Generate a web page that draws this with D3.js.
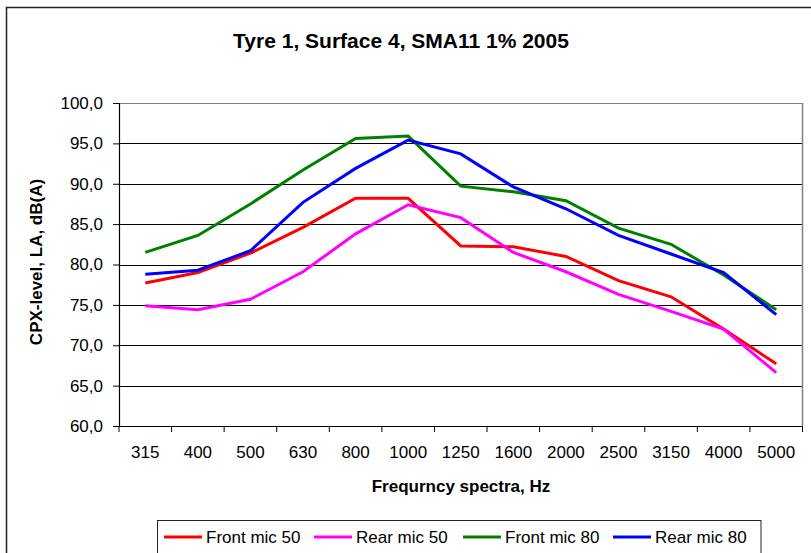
<!DOCTYPE html>
<html>
<head>
<meta charset="utf-8">
<script src="https://cdn.jsdelivr.net/npm/d3@7"></script>
<style>
  html, body { margin: 0; padding: 0; background: #fff; }
  svg { display: block; }
  text { font-family: Arial, "Liberation Sans", sans-serif; fill: #000; }
</style>
</head>
<body>
<svg id="chart" width="811" height="553"></svg>
<script>
const categories = ["315","400","500","630","800","1000","1250","1600","2000","2500","3150","4000","5000"];
const frontMic50 = [77.7, 79.0, 81.4, 84.6, 88.2, 88.2, 82.3, 82.2, 81.0, 78.0, 76.0, 72.0, 67.7];
const rearMic50  = [74.9, 74.4, 75.7, 79.1, 83.8, 87.4, 85.8, 81.5, 79.1, 76.3, 74.2, 72.0, 66.6];
const frontMic80 = [81.5, 83.6, 87.5, 91.7, 95.6, 95.9, 89.7, 89.0, 87.9, 84.5, 82.5, 78.7, 74.4];
const rearMic80  = [78.8, 79.3, 81.7, 87.7, 91.9, 95.4, 93.7, 89.6, 86.9, 83.6, 81.3, 79.0, 73.8];
const yTicks = [60, 65, 70, 75, 80, 85, 90, 95, 100];
const seriesNames = ["Front mic 50", "Rear mic 50", "Front mic 80", "Rear mic 80"];
const seriesColors = ["#FF0000", "#FF00FF", "#008000", "#0000FF"];
const seriesValues = [frontMic50, rearMic50, frontMic80, rearMic80];
const titleText = "Tyre 1, Surface 4, SMA11 1% 2005";
const xTitle = "Frequrncy spectra, Hz";
const yTitle = "CPX-level, LA, dB(A)";

const svg = d3.select("#chart");
const plot = {left: 119, right: 802.5, top: 103, bottom: 426};

// outer chart frame (extends past right/bottom edges)
svg.append("rect").attr("x", 6.5).attr("y", 7.5).attr("width", 900).attr("height", 700)
  .attr("fill", "none").attr("stroke", "#222").attr("stroke-width", 1.5);

const x = d3.scaleBand().domain(categories).range([plot.left, plot.right]).padding(0);
const y = d3.scaleLinear().domain([60, 100]).range([plot.bottom, plot.top]);

// gridlines
svg.append("g").selectAll("line").data(yTicks.filter(d => d > 60)).join("line")
  .attr("x1", plot.left).attr("x2", plot.right)
  .attr("y1", d => Math.round(y(d)) + 0.5).attr("y2", d => Math.round(y(d)) + 0.5)
  .attr("stroke", d => d === 100 ? "#808080" : "#000").attr("stroke-width", 1);

// plot area right border
svg.append("line").attr("x1", plot.right).attr("x2", plot.right)
  .attr("y1", plot.top).attr("y2", plot.bottom).attr("stroke", "#808080").attr("stroke-width", 1.5);

// Y axis
const yAxis = d3.axisLeft(y).tickValues(yTicks).tickSize(6).tickPadding(10)
  .tickFormat(d => d3.format(".1f")(d).replace(".", ","));
const gy = svg.append("g").attr("transform", `translate(${plot.left},0)`).call(yAxis);
gy.select(".domain").attr("stroke", "#000").attr("stroke-width", 1.2);
gy.selectAll(".tick line").attr("stroke", "#000");
gy.selectAll(".tick text").style("font-size", "17px").style("font-family", "Arial, 'Liberation Sans', sans-serif");

// X axis (ticks between categories)
const xAxis = d3.axisBottom(x).tickSize(0).tickPadding(20);
const gx = svg.append("g").attr("transform", `translate(0,${plot.bottom})`).call(xAxis);
gx.select(".domain").remove();
gx.selectAll(".tick text").style("font-size", "17px").style("font-family", "Arial, 'Liberation Sans', sans-serif");
svg.append("line").attr("x1", plot.left).attr("x2", plot.right)
  .attr("y1", plot.bottom + 0.5).attr("y2", plot.bottom + 0.5).attr("stroke", "#000").attr("stroke-width", 1.2);
const boundaries = categories.map(c => x(c)).concat([x(categories[categories.length - 1]) + x.bandwidth()]);
svg.append("g").selectAll("line").data(boundaries).join("line")
  .attr("x1", d => d).attr("x2", d => d)
  .attr("y1", plot.bottom).attr("y2", plot.bottom + 6)
  .attr("stroke", "#000");

// series lines
const line = d3.line().x((d, i) => x(categories[i]) + x.bandwidth() / 2).y(d => y(d));
seriesValues.forEach((vals, k) => {
  svg.append("path").datum(vals).attr("d", line)
    .attr("fill", "none").attr("stroke", seriesColors[k]).attr("stroke-width", 3)
    .attr("stroke-linejoin", "miter");
});

// titles
svg.append("text").attr("x", 401).attr("y", 48).attr("text-anchor", "middle")
  .style("font-size", "21px").style("font-weight", "bold").text(titleText);
svg.append("text").attr("x", 461).attr("y", 492).attr("text-anchor", "middle")
  .style("font-size", "17px").style("font-weight", "bold").text(xTitle);
svg.append("text").attr("transform", `translate(42,262) rotate(-90)`).attr("text-anchor", "middle")
  .style("font-size", "17px").style("font-weight", "bold").text(yTitle);

// legend
svg.append("rect").attr("x", 157.5).attr("y", 520.5).attr("width", 603.5).attr("height", 60)
  .attr("fill", "#fff").attr("stroke", "#222").attr("stroke-width", 1);
const legendX = [164, 314, 463, 613];
const lg = svg.append("g").selectAll("g").data(seriesNames).join("g")
  .attr("transform", (d, i) => `translate(${legendX[i]},537)`);
lg.append("line").attr("x1", 0).attr("x2", 38).attr("y1", 0).attr("y2", 0)
  .attr("stroke", (d, i) => seriesColors[i]).attr("stroke-width", 3);
lg.append("text").attr("x", 42).attr("y", 6).style("font-size", "17px").text(d => d);
</script>
</body>
</html>
